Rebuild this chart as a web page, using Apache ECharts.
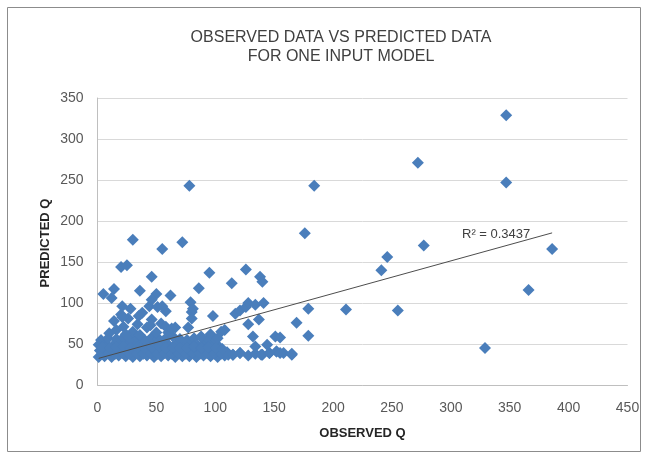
<!DOCTYPE html>
<html>
<head>
<meta charset="utf-8">
<script src="https://cdn.jsdelivr.net/npm/echarts@6/dist/echarts.min.js"></script>
<style>
html,body{margin:0;padding:0;background:#fff;}
#chart{width:649px;height:459px;}
</style>
</head>
<body>
<div id="chart"></div>
<script>
// Observed Q (x) and Predicted Q (y)
var observedQ = [
  1, 6, 12, 18, 24, 30, 36, 42, 48, 54, 60, 66, 72, 78, 84, 90, 96, 102, 108, 115, 121, 128, 134, 140, 146, 152, 158, 165,
  2, 8, 14, 20, 26, 32, 38, 44, 50, 56, 62, 68, 74, 80, 86, 92, 98, 104, 110,
  1, 7, 13, 19, 25, 31, 37, 43, 49, 55, 61, 67, 73, 79, 85, 91, 97, 103,
  3, 9, 16, 22, 28, 34, 40, 46, 52, 58, 70, 76, 82, 88, 94, 100,
  4, 9, 15, 21, 27, 33, 39, 45, 51, 57, 63, 69, 75, 81, 87, 93, 99, 105, 111,
  4, 10, 16, 22, 28, 34, 40, 46, 52, 58, 64, 70, 76, 82, 88, 94, 100, 106,
  10, 16, 22, 14, 20, 26, 30, 34, 38, 42, 46, 50, 54, 58, 60, 66, 28, 44, 36, 24,
  5, 12, 14, 21, 21, 35, 36, 46, 50, 46, 51, 55, 62, 58, 64, 63, 45, 77, 79, 80, 80, 86, 81, 95, 98, 105, 108, 114, 117, 121, 126, 128, 134, 141, 128, 137, 126, 138, 140,
  132, 151, 144, 134, 139, 115, 121, 146, 152, 155, 155, 165, 88, 96, 102,
  169, 179, 179, 211, 255, 329, 366, 386, 241, 246, 277, 272, 347, 347, 184, 176, 78, 30, 55, 72, 20, 25
];
var predictedQ = [
  34, 35, 34, 36, 35, 34, 35, 36, 34, 35, 36, 34, 35, 35, 34, 36, 35, 34, 36, 37, 39, 36, 38, 37, 39, 41, 39, 37,
  42, 43, 41, 44, 42, 43, 41, 42, 44, 42, 43, 41, 42, 44, 42, 43, 41, 42, 40,
  49, 50, 48, 51, 49, 50, 48, 49, 51, 49, 48, 50, 49, 51, 48, 50, 49, 47,
  55, 57, 56, 58, 56, 57, 55, 58, 56, 57, 56, 55, 57, 58, 56, 55,
  38, 39, 38, 39, 38, 39, 38, 39, 38, 39, 38, 39, 38, 39, 38, 39, 38, 38, 37,
  46, 45, 46, 47, 45, 46, 45, 46, 47, 45, 46, 45, 46, 47, 45, 46, 45, 44,
  63, 67, 71, 78, 86, 81, 65, 74, 88, 70, 80, 64, 75, 90, 64, 70, 93, 96, 61, 62,
  111, 106, 117, 96, 83, 84, 115, 132, 111, 104, 95, 96, 109, 71, 59, 69, 73, 70, 101, 89, 81, 118, 93, 137, 84, 65, 67, 124, 87, 91, 95, 100, 98, 100, 74, 80, 141, 132, 126,
  59, 59, 49, 47, 37, 37, 39, 39, 41, 39, 58, 38, 59, 62, 57,
  76, 60, 93, 92, 91, 45, 116, 166, 140, 156, 170, 271, 247, 329, 243, 185, 243, 177, 166, 174, 144, 146
];
// Linear trendline end points (as drawn in the reference)
var trendObserved = [1, 386];
var trendPredicted = [32.5, 185.5];
var r2Label = 'R\u00b2 = 0.3437';
var xTicks = {min: 0, max: 450, interval: 50};
var yTicks = {min: 0, max: 350, interval: 50};
var chartTitle = ['OBSERVED DATA VS PREDICTED DATA', 'FOR ONE INPUT MODEL'];
var xName = 'OBSERVED Q';
var yName = 'PREDICTED Q';

var points = observedQ.map(function (x, i) { return [x, predictedQ[i]]; });
var trend = trendObserved.map(function (x, i) { return [x, trendPredicted[i]]; });

var chart = echarts.init(document.getElementById('chart'), null, {renderer: 'canvas'});
var font = "'Liberation Sans', Arial, sans-serif";
chart.setOption({
  animation: false,
  backgroundColor: '#ffffff',
  grid: {left: 97.5, right: 21.5, top: 98, bottom: 74, containLabel: false, outerBoundsMode: 'none'},
  xAxis: {
    type: 'value', min: xTicks.min, max: xTicks.max, interval: xTicks.interval,
    axisLine: {show: true, lineStyle: {color: '#bfbfbf', width: 1}},
    axisTick: {show: false},
    axisLabel: {color: '#595959', fontSize: 14, fontFamily: font, margin: 16},
    splitLine: {show: false}
  },
  yAxis: {
    type: 'value', min: yTicks.min, max: yTicks.max, interval: yTicks.interval,
    axisLine: {show: true, lineStyle: {color: '#bfbfbf', width: 1}},
    axisTick: {show: false},
    axisLabel: {color: '#595959', fontSize: 14, fontFamily: font, margin: 14},
    splitLine: {show: true, lineStyle: {color: '#d9d9d9', width: 1}}
  },
  series: [
    {
      type: 'scatter', data: points, symbol: 'diamond', symbolSize: 12,
      itemStyle: {color: '#4A7EBB', opacity: 1, borderWidth: 0}, z: 2
    },
    {
      type: 'line', data: trend, symbol: 'none', z: 3,
      lineStyle: {color: '#4d4d4d', width: 1}
    }
  ],
  graphic: [
    {type: 'rect', shape: {x: 7.5, y: 7.5, width: 633, height: 444}, style: {fill: 'none', stroke: '#8c8c8c', lineWidth: 1}, z: 0},
    {type: 'text', x: 341, y: 38, style: {text: chartTitle[0], align: 'center', verticalAlign: 'middle', fill: '#404040', font: "16px " + font}},
    {type: 'text', x: 341, y: 57, style: {text: chartTitle[1], align: 'center', verticalAlign: 'middle', fill: '#404040', font: "16px " + font}},
    {type: 'text', x: 362.5, y: 433, style: {text: xName, align: 'center', verticalAlign: 'middle', fill: '#262626', font: "bold 13px " + font}},
    {type: 'text', x: 45, y: 243, rotation: Math.PI / 2, style: {text: yName, align: 'center', verticalAlign: 'middle', fill: '#262626', font: "bold 13px " + font}},
    {type: 'text', x: 462, y: 234, z: 10, style: {text: r2Label, align: 'left', verticalAlign: 'middle', fill: '#404040', font: "13px " + font}}
  ]
});
</script>
</body>
</html>
